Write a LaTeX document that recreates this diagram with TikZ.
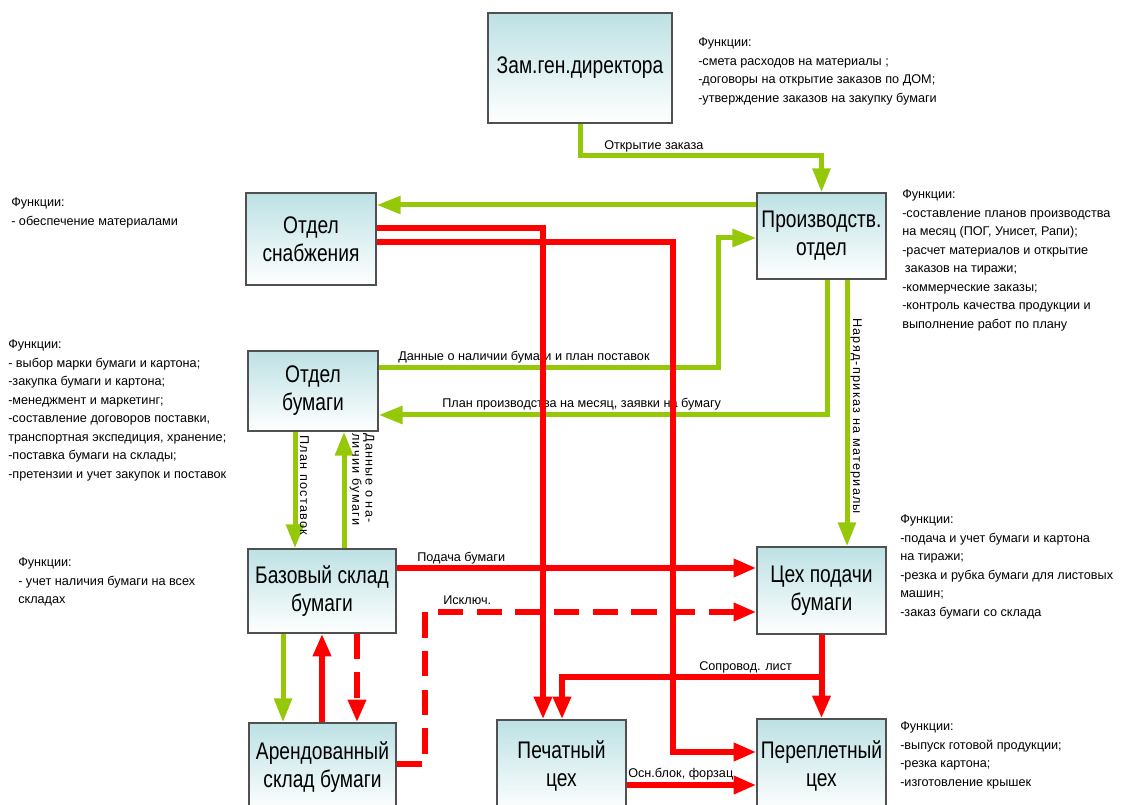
\documentclass[tikz,border=0pt]{standalone}
\usepackage{fontspec}
\setmainfont{Liberation Sans}
\newfontfamily\boxfont{Liberation Sans}[FakeStretch=0.8]
\newfontfamily\vertfont{Liberation Sans}[LetterSpace=10]
\usetikzlibrary{arrows.meta}
\definecolor{OrgTeal}{HTML}{BDE1E4}
\definecolor{OrgLine}{HTML}{505050}
\definecolor{OrgGreen}{HTML}{96C80A}
\definecolor{OrgRed}{HTML}{FF0000}
\tikzset{
  unit/.style={draw=OrgLine,line width=1.1pt,top color=OrgTeal,bottom color=white,inner sep=0pt,align=center,font=\boxfont\fontsize{18}{21}\selectfont},
  funcs/.style={anchor=north west,inner sep=0pt,align=left,font=\fontsize{9.5}{13.9}\selectfont},
  flowlabel/.style={anchor=base west,inner sep=0pt,font=\fontsize{9.5}{11}\selectfont},
  vertlabel/.style={rotate=-90,inner sep=0pt,align=left,font=\vertfont\fontsize{9.5}{8.5}\selectfont},
  greenflow/.style={draw=OrgGreen,line width=3.75pt,-{Triangle[length=18pt,width=13pt]}},
  redflow/.style={draw=OrgRed,line width=4.5pt,-{Triangle[length=17pt,width=13pt]}},
  redalt/.style={redflow,dash pattern=on 19pt off 10pt}
}

\begin{document}
\begin{tikzpicture}[x=0.75pt,y=-0.75pt]
\path[use as bounding box] (0,0) rectangle (1121,805);
\clip (0,0) rectangle (1121,805);
\node[unit,minimum width=138pt,minimum height=82.5pt] (zam) at (580,68) {Зам.ген.директора};
\node[unit,minimum width=97.5pt,minimum height=69pt] (snab) at (311,239) {Отдел\\снабжения};
\node[unit,minimum width=96.75pt,minimum height=64.5pt] (prod) at (821.5,236) {Производств.\\отдел};
\node[unit,minimum width=97.5pt,minimum height=60pt] (otdb) at (313,391) {Отдел\\бумаги};
\node[unit,minimum width=111pt,minimum height=63pt] (baz) at (322,591) {Базовый склад\\бумаги};
\node[unit,minimum width=110.25pt,minimum height=66.75pt] (arend) at (322.5,767.5) {Арендованный\\склад бумаги};
\node[unit,minimum width=96.75pt,minimum height=69pt] (pech) at (561.5,766) {Печатный\\цех};
\node[unit,minimum width=96.75pt,minimum height=65.25pt] (tsekh) at (821.5,590.5) {Цех подачи\\бумаги};
\node[unit,minimum width=96.75pt,minimum height=69.75pt] (perepl) at (821.5,765.5) {Переплетный\\цех};

\node[funcs] (fzam) at (698,37.5) {Функции:\\-смета расходов на материалы ;\\-договоры на открытие заказов по ДОМ;\\-утверждение заказов на закупку бумаги};
\node[funcs] (fsnab) at (11,197.5) {Функции:\\- обеспечение материалами};
\node[funcs] (fprod) at (902,189.5) {Функции:\\-составление планов производства\\на месяц (ПОГ, Унисет, Рапи);\\-расчет материалов и открытие\\\hspace*{2pt}заказов на тиражи;\\-коммерческие заказы;\\-контроль качества продукции и\\выполнение работ по плану};
\node[funcs] (fotdb) at (8,339.5) {Функции:\\- выбор марки бумаги и картона;\\-закупка бумаги и картона;\\-менеджмент и маркетинг;\\-составление договоров поставки,\\транспортная экспедиция, хранение;\\-поставка бумаги на склады;\\-претензии и учет закупок и поставок};
\node[funcs] (fbaz) at (18,557.5) {Функции:\\- учет наличия бумаги на всех\\складах};
\node[funcs] (ftsekh) at (900,514.5) {Функции:\\-подача и учет бумаги и картона\\на тиражи;\\-резка и рубка бумаги для листовых\\машин;\\-заказ бумаги со склада};
\node[funcs] (fperepl) at (900,721.5) {Функции:\\-выпуск готовой продукции;\\-резка картона;\\-изготовление крышек};

\draw[greenflow] (zam.south) -- ++(0,32) -| (prod.north);
\draw[greenflow] (prod.west |- 0,205) -- (snab.east |- 0,205);
\draw[greenflow] (otdb.east |- 0,368) -| (718,238) -- (prod.west |- 0,238);
\draw[greenflow] (prod.south -| 827,0) |- (otdb.east |- 0,415);
\draw[greenflow] (prod.south -| 847,0) -- (tsekh.north -| 847,0);
\draw[greenflow] (otdb.south -| 295,0) -- (baz.north -| 295,0);
\draw[greenflow] (baz.north -| 344,0) -- (otdb.south -| 344,0);
\draw[greenflow] (baz.south -| 283,0) -- (arend.north -| 283,0);

\node[flowlabel] (lzak) at (604,150) {Открытие заказа};
\node[flowlabel] (ldan) at (398,361) {Данные о наличии бумаги и план поставок};
\node[flowlabel] (lplan) at (442,408) {План производства на месяц, заявки на бумагу};
\node[flowlabel] (lpod) at (417,561) {Подача бумаги};
\node[flowlabel] (liskl) at (443,604) {Исключ.};
\node[flowlabel] (lsopr) at (699,670) {Сопровод. лист};
\node[flowlabel] (losn) at (628,777) {Осн.блок, форзац};
\node[vertlabel,anchor=base west] (lnar) at (853,318) {Наряд-приказ на материалы};
\node[vertlabel,anchor=base west] (lpost) at (300,435) {План поставок};
\node[vertlabel,anchor=south west] (lnal) at (349.5,433) {Данные о на-\\личии бумаги};

\draw[redflow] (snab.east |- 0,228) -| (pech.north -| 543,0);
\draw[redflow] (snab.east |- 0,242) -| (673,752) -- (perepl.west |- 0,752);
\draw[redflow] (baz.east |- 0,568) -- (tsekh.west |- 0,568);
\draw[redalt] (arend.east |- 0,764) -| (425,612) -- (tsekh.west |- 0,612);
\draw[redflow] (arend.north -| 322,0) -- (baz.south -| 322,0);
\draw[redalt] (baz.south -| 357,0) -- (arend.north -| 357,0);
\draw[redflow] (tsekh.south) -- (perepl.north);
\draw[redflow] (tsekh.south |- 0,677) -| (pech.north -| 562,0);
\draw[redflow] (pech.east |- 0,785) -- (perepl.west |- 0,785);
\end{tikzpicture}
\end{document}
